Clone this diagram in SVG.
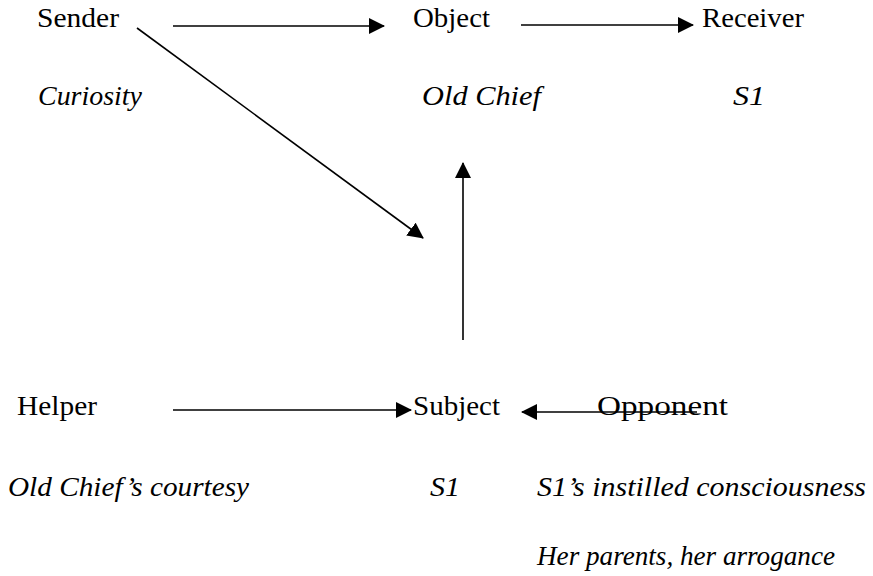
<svg xmlns="http://www.w3.org/2000/svg" width="873" height="576" viewBox="0 0 873 576">
<defs>
<style>
.t{fill:#000;font-size:28px}
.it{font-style:italic}
.ln{stroke:#000;stroke-width:1.6;fill:none}
</style>
<marker id="ah" markerUnits="userSpaceOnUse" markerWidth="16" markerHeight="16" viewBox="0 0 16 16" refX="15" refY="8" orient="auto">
<path d="M0,0 L16,8 L0,16 Z" fill="#000"/>
</marker>
</defs>
<rect width="873" height="576" fill="#fff"/>
<g font-family="Liberation Serif, Times New Roman, serif">
<g id="sender"><text class="t" font-family="Liberation Serif, serif" x="37" y="27" textLength="82" lengthAdjust="spacingAndGlyphs">Sender</text><text class="t it" font-family="Liberation Serif, serif" x="38" y="105" textLength="104" lengthAdjust="spacingAndGlyphs">Curiosity</text></g>
<g id="object"><text class="t" font-family="Liberation Serif, serif" x="413" y="27" textLength="77" lengthAdjust="spacingAndGlyphs">Object</text><text class="t it" font-family="Liberation Serif, serif" x="422" y="105" textLength="119" lengthAdjust="spacingAndGlyphs">Old Chief</text></g>
<g id="receiver"><text class="t" font-family="Liberation Serif, serif" x="702" y="27" textLength="102" lengthAdjust="spacingAndGlyphs">Receiver</text><text class="t it" font-family="Liberation Serif, serif" x="733" y="105" textLength="32" lengthAdjust="spacingAndGlyphs">S1</text></g>
<g id="helper"><text class="t" font-family="Liberation Serif, serif" x="17" y="415" textLength="80" lengthAdjust="spacingAndGlyphs">Helper</text><text class="t it" font-family="Liberation Serif, serif" x="8" y="496" textLength="241" lengthAdjust="spacingAndGlyphs">Old Chief’s courtesy</text></g>
<g id="subject"><text class="t" font-family="Liberation Serif, serif" x="413" y="415" textLength="87" lengthAdjust="spacingAndGlyphs">Subject</text><text class="t it" font-family="Liberation Serif, serif" x="430" y="496" textLength="30" lengthAdjust="spacingAndGlyphs">S1</text></g>
<g id="opponent"><text class="t" font-family="Liberation Serif, serif" x="597" y="415" textLength="131" lengthAdjust="spacingAndGlyphs">Opponent</text><text class="t it" font-family="Liberation Serif, serif" x="537" y="496" textLength="329" lengthAdjust="spacingAndGlyphs">S1’s instilled consciousness</text><text class="t it" font-family="Liberation Serif, serif" x="537" y="565" textLength="298" lengthAdjust="spacingAndGlyphs">Her parents, her arrogance</text></g>
</g>
<g id="connectors">
<line class="ln" x1="173" y1="26" x2="384" y2="26" marker-end="url(#ah)"/>
<line class="ln" x1="521" y1="25" x2="693" y2="25" marker-end="url(#ah)"/>
<line class="ln" x1="137" y1="28" x2="423" y2="238" marker-end="url(#ah)"/>
<line class="ln" x1="463" y1="340" x2="463" y2="163" marker-end="url(#ah)"/>
<line class="ln" x1="173" y1="410" x2="411" y2="410" marker-end="url(#ah)"/>
<line class="ln" x1="697" y1="412" x2="522" y2="412" marker-end="url(#ah)"/>
</g>
</svg>
